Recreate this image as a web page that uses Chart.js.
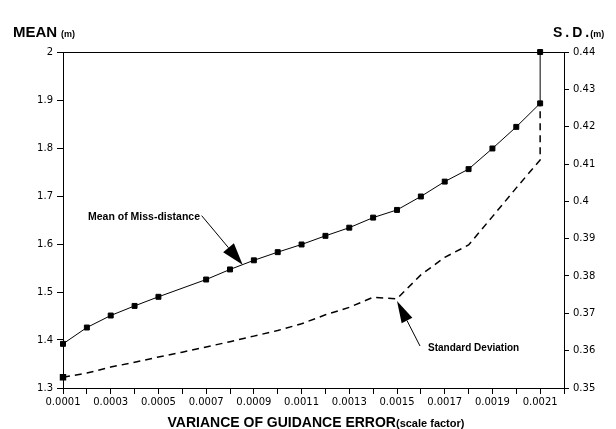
<!DOCTYPE html>
<html>
<head>
<meta charset="utf-8">
<script src="https://cdn.jsdelivr.net/npm/chart.js@4.4.1/dist/chart.umd.min.js"></script>
<style>
  html, body { margin: 0; padding: 0; background: #fff; }
  #wrap { width: 616px; height: 429px; position: relative; }
</style>
</head>
<body>
<div id="wrap"><canvas id="c"></canvas></div>
<script>
// Variance of guidance error (scale factor) for the mean series
const meanX = [0.0001, 0.0002, 0.0003, 0.0004, 0.0005, 0.0007, 0.0008, 0.0009, 0.0010, 0.0011,
               0.0012, 0.0013, 0.0014, 0.0015, 0.0016, 0.0017, 0.0018, 0.0019, 0.0020, 0.0021, 0.0021];
// Mean of miss-distance (m)
const meanValues = [1.392, 1.426, 1.451, 1.471, 1.490, 1.526, 1.547, 1.566, 1.583, 1.599,
                    1.617, 1.634, 1.655, 1.671, 1.699, 1.730, 1.756, 1.799, 1.844, 1.893, 2.000];

// Variance of guidance error for the standard deviation series
const sdX = [0.0001, 0.0002, 0.0003, 0.0004, 0.0005, 0.0006, 0.0007, 0.0008, 0.0009, 0.0010, 0.0011,
             0.0012, 0.0013, 0.0014, 0.0015, 0.0016, 0.0017, 0.0018, 0.0019, 0.0020, 0.0021, 0.0021];
// Standard deviation of miss-distance (m)
const sdValues = [0.3529, 0.3540, 0.3556, 0.3569, 0.3583, 0.3596, 0.3610, 0.3624, 0.3639, 0.3654, 0.3672,
                  0.3696, 0.3716, 0.3743, 0.3739, 0.3803, 0.3850, 0.3883, 0.3959, 0.4036, 0.4111, 0.4263];

// Axis tick settings
const xTicks = { min: 0.0001, max: 0.0022, step: 0.0001 };
const meanTicks = { min: 1.3, max: 2.0, step: 0.1 };
const sdTicks = { min: 0.35, max: 0.44, step: 0.01 };

// Annotation callouts: text and the data point each arrow points at
const meanCallout = { text: 'Mean of Miss-distance', x: 0.000853, y: 1.557 };
const sdCallout = { text: 'Standard Deviation', x: 0.0015, y: 0.3733 };

const TICK_FONT = { family: "'DejaVu Sans'", size: 10 };

function arrow(ctx, x0, y0, x1, y1, headLen, headHalf) {
  const dx = x1 - x0, dy = y1 - y0;
  const len = Math.hypot(dx, dy);
  const ux = dx / len, uy = dy / len;
  const bx = x1 - ux * headLen, by = y1 - uy * headLen;
  ctx.beginPath();
  ctx.moveTo(x0, y0);
  ctx.lineTo(bx, by);
  ctx.stroke();
  ctx.beginPath();
  ctx.moveTo(x1, y1);
  ctx.lineTo(bx - uy * headHalf, by + ux * headHalf);
  ctx.lineTo(bx + uy * headHalf, by - ux * headHalf);
  ctx.closePath();
  ctx.fill();
}

const decorations = {
  id: 'decorations',
  afterDraw(chart) {
    const { ctx, chartArea: a, scales } = chart;
    ctx.save();
    ctx.strokeStyle = '#000';
    ctx.fillStyle = '#000';
    ctx.lineWidth = 1;

    // top frame line
    ctx.beginPath();
    ctx.moveTo(a.left, a.top + 0.5);
    ctx.lineTo(a.right, a.top + 0.5);
    ctx.stroke();

    ctx.textBaseline = 'alphabetic';
    ctx.textAlign = 'left';

    // left axis heading
    ctx.font = "bold 15px 'Liberation Sans'";
    ctx.fillText('MEAN', 13, 37);
    ctx.font = "bold 9px 'Liberation Sans'";
    ctx.fillText('(m)', 61, 37);

    // right axis heading
    ctx.font = "bold 14px 'Liberation Sans'";
    ctx.letterSpacing = '3px';
    ctx.fillText('S.D.', 553, 37);
    const sdw = ctx.measureText('S.D.').width;
    ctx.letterSpacing = '0px';
    ctx.font = "bold 9px 'Liberation Sans'";
    ctx.fillText('(m)', 553 + sdw - 2, 37);

    // x axis title
    const t1 = 'VARIANCE OF GUIDANCE ERROR', t2 = '(scale factor)';
    ctx.font = "bold 14px 'Liberation Sans'";
    const w1 = ctx.measureText(t1).width;
    ctx.font = "bold 11px 'Liberation Sans'";
    const w2 = ctx.measureText(t2).width;
    const startX = 316 - (w1 + w2) / 2;
    ctx.font = "bold 14px 'Liberation Sans'";
    ctx.fillText(t1, startX, 427);
    ctx.font = "bold 11px 'Liberation Sans'";
    ctx.fillText(t2, startX + w1, 427);

    // callouts
    ctx.font = "bold 10.5px 'Liberation Sans'";
    ctx.fillText(meanCallout.text, 88, 220);
    ctx.font = "bold 10px 'Liberation Sans'";
    ctx.fillText(sdCallout.text, 428, 351);

    const mx = scales.x.getPixelForValue(meanCallout.x);
    const my = scales.y.getPixelForValue(meanCallout.y);
    arrow(ctx, mx - 41, my - 49, mx, my, 22, 7);

    const sx = scales.x.getPixelForValue(sdCallout.x);
    const sy = scales.y1.getPixelForValue(sdCallout.y);
    arrow(ctx, sx + 23, sy + 45, sx, sy, 22, 6);

    ctx.restore();
  }
};

const meanData = meanX.map((x, i) => ({ x, y: meanValues[i] }));
const sdData = sdX.map((x, i) => ({ x, y: sdValues[i] }));
const sdRadius = sdValues.map((v, i) => (i === 0 ? 3.5 : 0));

new Chart(document.getElementById('c'), {
  type: 'line',
  data: {
    datasets: [
      {
        label: 'Mean of Miss-distance',
        data: meanData,
        yAxisID: 'y',
        borderColor: '#000',
        backgroundColor: '#000',
        borderWidth: 1,
        pointStyle: 'rect',
        pointRadius: 3.5,
        pointHoverRadius: 3.5,
        tension: 0,
        clip: 6
      },
      {
        label: 'Standard Deviation',
        data: sdData,
        yAxisID: 'y1',
        borderColor: '#000',
        backgroundColor: '#000',
        borderWidth: 1.5,
        borderDash: [7, 5],
        pointStyle: 'rect',
        pointRadius: sdRadius,
        pointHoverRadius: sdRadius,
        tension: 0,
        clip: 6
      }
    ]
  },
  options: {
    responsive: true,
    maintainAspectRatio: false,
    animation: false,
    events: [],
    layout: { padding: { top: 52, left: 0, right: 0, bottom: 0 } },
    plugins: { legend: { display: false }, tooltip: { enabled: false } },
    scales: {
      x: {
        type: 'linear',
        min: xTicks.min,
        max: xTicks.max,
        afterFit(s) { s.height = 41; },
        border: { display: true, color: '#000', width: 1 },
        grid: { drawOnChartArea: false, drawTicks: true, tickLength: 6, color: '#000' },
        ticks: {
          stepSize: xTicks.step,
          autoSkip: false,
          maxRotation: 0,
          padding: 2,
          color: '#000',
          font: TICK_FONT,
          callback: (v, i) => (i % 2 === 0 ? v.toFixed(4) : '')
        }
      },
      y: {
        type: 'linear',
        position: 'left',
        min: meanTicks.min,
        max: meanTicks.max,
        afterFit(s) { s.width = 63; },
        border: { display: true, color: '#000', width: 1 },
        grid: { drawOnChartArea: false, drawTicks: true, tickLength: 6, color: '#000' },
        ticks: {
          stepSize: meanTicks.step,
          padding: 4,
          color: '#000',
          font: TICK_FONT,
          callback: v => String(+v.toFixed(2))
        }
      },
      y1: {
        type: 'linear',
        position: 'right',
        min: sdTicks.min,
        max: sdTicks.max,
        afterFit(s) { s.width = 52; },
        border: { display: true, color: '#000', width: 1 },
        grid: { drawOnChartArea: false, drawTicks: true, tickLength: 5, color: '#000' },
        ticks: {
          stepSize: sdTicks.step,
          padding: 4,
          color: '#000',
          font: TICK_FONT,
          callback: v => String(+v.toFixed(3))
        }
      }
    }
  },
  plugins: [decorations]
});
</script>
</body>
</html>
